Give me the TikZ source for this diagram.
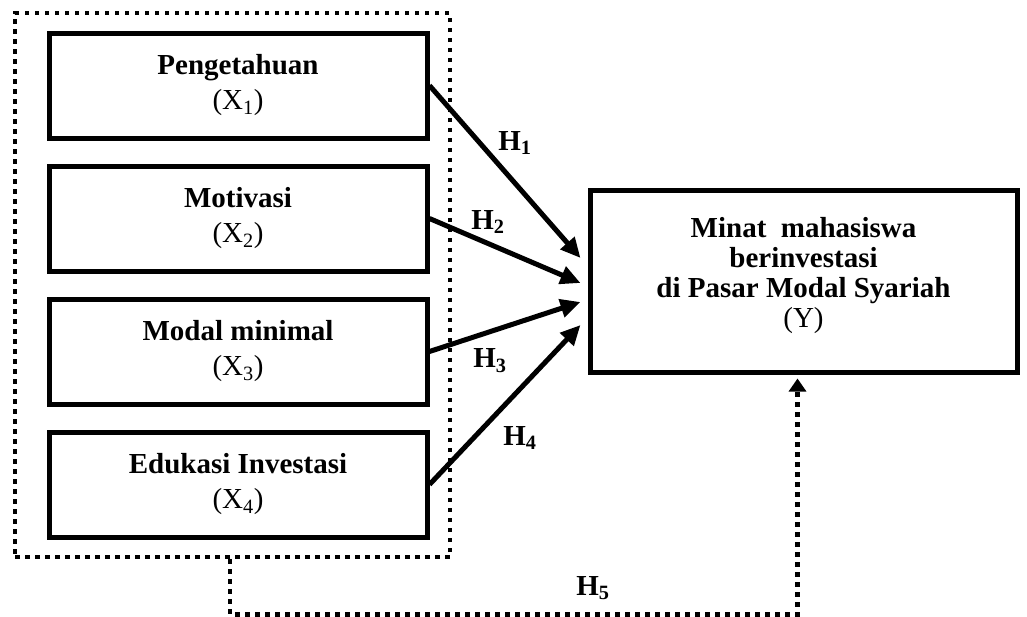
\documentclass[tikz,border=0pt]{standalone}
\usepackage{fontspec}
\setmainfont{Liberation Serif}
\usetikzlibrary{arrows.meta}

\begin{document}
\begin{tikzpicture}[x=1pt, y=-1pt, line width=5pt, font=\fontsize{29}{35}\selectfont]
	\useasboundingbox (0,0) rectangle (1027,616);
	\tikzset{
		dots/.style={line width=4.5pt, dash pattern=on 4.5pt off 5.5pt},
		arr/.style={-{Triangle[length=20pt,width=18pt]}, line width=5pt}
	}
	\begin{scope}[every node/.style={draw, line width=5pt, minimum width=378pt, minimum height=105pt, align=center, inner sep=0pt}]
		\node (x1) at(238, 85.5) {\textbf{Pengetahuan}\\(X\textsubscript{1})};
		\node (x2) at(238, 218.5) {\textbf{Motivasi}\\(X\textsubscript{2})};
		\node (x3) at(238, 351.5) {\textbf{Modal minimal}\\(X\textsubscript{3})};
		\node (x4) at(238, 484.5) {\textbf{Edukasi Investasi}\\(X\textsubscript{4})};
		\node[minimum width=427pt, minimum height=182pt, text depth=18pt, font=\fontsize{29}{30}\selectfont] (y) at(803.5, 281)
			{\textbf{Minat\ \ mahasiswa}\\\textbf{berinvestasi}\\\textbf{di Pasar Modal Syariah}\\(Y)};
	\end{scope}
	% kotak variabel independen
	\node[draw, dots, minimum width=435pt, minimum height=544pt, inner sep=0pt] (grp) at(232.5, 285) {};
	\begin{scope}[arr]
		\draw (x1.east) -- ([xshift=-7pt, yshift=23pt]y.west);
		\draw (x2.east) -- ([xshift=-7pt, yshift=-2pt]y.west);
		\draw (x3.east) -- ([xshift=-7pt, yshift=-21pt]y.west);
		\draw (x4.east) -- ([xshift=-7pt, yshift=-44pt]y.west);
	\end{scope}
	\draw[dots, -{Triangle[length=13pt,width=17pt]}, shorten >=4pt] ([xshift=-2.5pt]grp.south) -- ++(0,55) -| ([xshift=-6pt]y.south);
	\begin{scope}[every node/.style={font=\fontsize{29}{35}\bfseries}]
		\node (h1) at(515, 143) {H\textsubscript{1}};
		\node (h2) at(488, 222) {H\textsubscript{2}};
		\node (h3) at(490, 361) {H\textsubscript{3}};
		\node (h4) at(520, 438) {H\textsubscript{4}};
		\node (h5) at(593, 588) {H\textsubscript{5}};
	\end{scope}
\end{tikzpicture}
\end{document}
